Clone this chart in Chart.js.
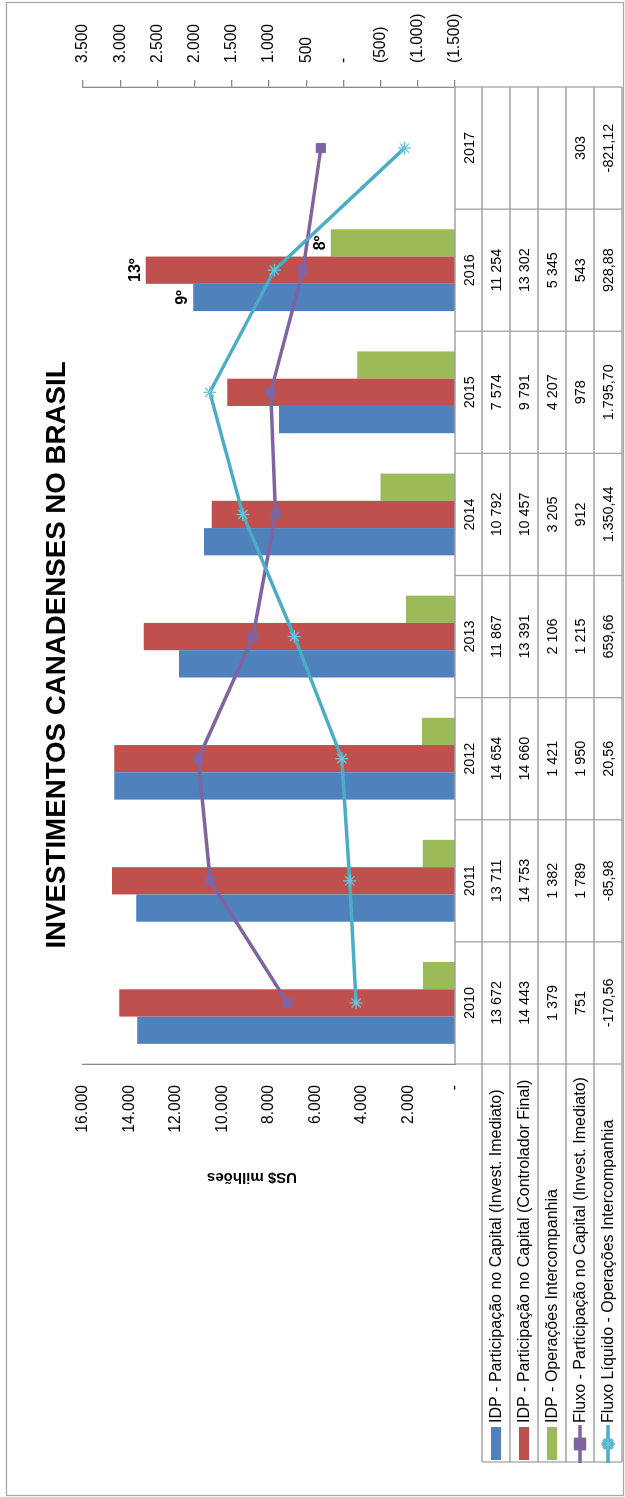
<!DOCTYPE html>
<html><head><meta charset="utf-8">
<script src="https://cdn.jsdelivr.net/npm/chart.js@4.4.1/dist/chart.umd.min.js"></script>
<style>
html,body{margin:0;padding:0;background:#fff;}
body{width:625px;height:1497px;overflow:hidden;position:relative;}
#wrap{position:absolute;left:0;top:1497px;width:1497px;height:625px;transform-origin:0 0;transform:rotate(-90deg);}
canvas{display:block;}
</style></head><body>
<div id="wrap"><canvas id="c" width="1497" height="625"></canvas></div>
<script>
// ---- data ----
const years = ['2010','2011','2012','2013','2014','2015','2016','2017'];
const idpImediato = [13672, 13711, 14654, 11867, 10792, 7574, 11254, null];
const idpFinal    = [14443, 14753, 14660, 13391, 10457, 9791, 13302, null];
const idpInter    = [1379, 1382, 1421, 2106, 3205, 4207, 5345, null];
const fluxoPart   = [751, 1789, 1950, 1215, 912, 978, 543, 303];
const fluxoLiq    = [-170.56, -85.98, 20.56, 659.66, 1350.44, 1795.70, 928.88, -821.12];
const rankYear = '2016';
const rankLabels = ['9º', '13º', '8º'];
const seriesNames = [
  'IDP - Participação no Capital (Invest. Imediato)',
  'IDP - Participação no Capital (Controlador Final)',
  'IDP - Operações Intercompanhia',
  'Fluxo - Participação no Capital (Invest. Imediato)',
  'Fluxo Líquido - Operações Intercompanhia'
];
const primaryAxis = [0, 16000, 2000];     // min, max, step
const secondaryAxis = [-1500, 3500, 500]; // min, max, step
const titleText = 'INVESTIMENTOS CANADENSES NO BRASIL';
const axisTitle = 'US$ milhões';

// ---- fonts ----
function fontAvailable(name){
  const c = document.createElement('canvas').getContext('2d');
  const s = 'mmmmmmmmmmlli 0123456789';
  c.font = '40px monospace'; const w1 = c.measureText(s).width;
  c.font = '40px "' + name + '", monospace'; const w2 = c.measureText(s).width;
  return w1 !== w2;
}
const HAS_NARROW = fontAvailable('Liberation Sans Narrow');
const NUM = HAS_NARROW ? '"Liberation Sans Narrow", "Liberation Sans", sans-serif' : '"Liberation Sans", sans-serif';
const K = HAS_NARROW ? 1 : 0.82;
const SANS = '"Liberation Sans", Arial, sans-serif';

// ---- formatting ----
function grp(n, sep){ return String(n).replace(/\B(?=(\d{3})+(?!\d))/g, sep); }
function fmtIdp(v){ if (v == null) return ''; return (v < 0 ? '-' : '') + grp(Math.round(Math.abs(v)), ' '); }
function fmtLiq(v){ if (v == null) return ''; const p = Math.abs(v).toFixed(2).split('.'); return (v < 0 ? '-' : '') + grp(+p[0], '.') + ',' + p[1]; }
function fmtPrimary(v){ return v === 0 ? '-' : grp(Math.abs(v), '.'); }
function fmtSecondary(v){ if (v === 0) return '-'; return v < 0 ? '(' + grp(-v, '.') + ')' : grp(v, '.'); }

const rows = [idpImediato, idpFinal, idpInter, fluxoPart, fluxoLiq];
const rowFmt = [fmtIdp, fmtIdp, fmtIdp, fmtIdp, fmtLiq];

const GRID = '#a3a3a3';

const bgPlugin = {
  id: 'bg',
  beforeDraw(chart){
    const ctx = chart.ctx; ctx.save(); ctx.fillStyle = '#fff';
    ctx.fillRect(0, 0, chart.width, chart.height); ctx.restore();
  }
};

const rankPlugin = {
  id: 'rank',
  afterDatasetsDraw(chart){
    const ctx = chart.ctx; const idx = years.indexOf(rankYear);
    ctx.save();
    ctx.font = 'bold 16px ' + SANS; ctx.fillStyle = '#000';
    ctx.textAlign = 'center'; ctx.textBaseline = 'alphabetic';
    rankLabels.forEach((t, d) => {
      const el = chart.getDatasetMeta(d).data[idx];
      if (el) ctx.fillText(t, el.x, el.y - 6);
    });
    ctx.restore();
  }
};

const tablePlugin = {
  id: 'table',
  afterDraw(chart){
    const {ctx, chartArea: ca, scales: {x}} = chart;
    const n = years.length;
    const step = x.getPixelForValue(1) - x.getPixelForValue(0);
    const left = x.getPixelForValue(0) - step / 2;
    const right = x.getPixelForValue(n - 1) + step / 2;
    const top = ca.bottom, headH = 27, rowH = 28;
    const bottom = top + headH + rows.length * rowH;
    const legLeft = 35;
    ctx.save();
    ctx.strokeStyle = GRID; ctx.lineWidth = 1.3;
    const line = (x1, y1, x2, y2) => { ctx.beginPath(); ctx.moveTo(x1, y1); ctx.lineTo(x2, y2); ctx.stroke(); };
    line(left, top, right, top);
    for (let r = 0; r <= rows.length; r++) {
      const y = top + headH + r * rowH;
      line(legLeft, y, right, y);
    }
    for (let i = 0; i <= n; i++) {
      const xx = left + i * step;
      line(xx, top, xx, bottom);
    }
    line(legLeft, top + headH, legLeft, bottom);

    // header years
    ctx.fillStyle = '#000'; ctx.textAlign = 'center'; ctx.textBaseline = 'middle';
    ctx.font = (17.5 * K) + 'px ' + NUM;
    years.forEach((yv, i) => ctx.fillText(yv, x.getPixelForValue(i), top + headH / 2 + 1.5));
    rows.forEach((arr, r) => {
      const cy = top + headH + r * rowH + rowH / 2 + 1.5;
      arr.forEach((v, i) => { const s = rowFmt[r](v); if (s) ctx.fillText(s, x.getPixelForValue(i), cy); });
    });

    // legend keys + labels
    const ds = chart.data.datasets;
    ctx.textAlign = 'left'; ctx.font = '16px ' + SANS;
    ds.forEach((d, r) => {
      const cy = top + headH + r * rowH + rowH / 2;
      if (d.type === 'bar') {
        ctx.fillStyle = d.backgroundColor; ctx.fillRect(37, cy - 5, 33, 10);
      } else {
        ctx.strokeStyle = d.borderColor; ctx.lineWidth = d.borderWidth;
        line(34, cy, 72, cy);
        Chart.helpers.drawPoint(ctx, {pointStyle: d.pointStyle, radius: d.pointRadius, borderWidth: d.pointBorderWidth, rotation: 0}, 53, cy);
        ctx.fillStyle = d.pointBackgroundColor; ctx.strokeStyle = d.pointBorderColor; ctx.lineWidth = d.pointBorderWidth;
        ctx.beginPath();
        Chart.helpers.drawPoint(ctx, {pointStyle: d.pointStyle, radius: d.pointRadius, borderWidth: d.pointBorderWidth, rotation: 0}, 53, cy);
      }
      ctx.fillStyle = '#000';
      ctx.fillText(d.label, 74, cy + 1);
    });

    // chart title
    ctx.textAlign = 'center'; ctx.textBaseline = 'alphabetic';
    ctx.font = 'bold ' + (HAS_NARROW ? 33.7 : 27.7) + 'px ' + NUM;
    ctx.fillText(titleText, 842, 65);

    // axis title
    ctx.save();
    ctx.translate(320, 252); ctx.rotate(-Math.PI / 2);
    ctx.textAlign = 'center'; ctx.textBaseline = 'middle';
    ctx.font = 'bold 15px ' + SANS;
    ctx.fillText(axisTitle, 0, 0);
    ctx.restore();

    // outer border
    ctx.strokeStyle = '#a8a8a8'; ctx.lineWidth = 1.3;
    ctx.strokeRect(1.5, 6.5, 1493, 617);
    ctx.restore();
  }
};

new Chart(document.getElementById('c'), {
  data: {
    labels: years,
    datasets: [
      {type: 'bar', label: seriesNames[0], data: idpImediato, backgroundColor: '#4F81BD', yAxisID: 'y', order: 3, categoryPercentage: 0.67, barPercentage: 1},
      {type: 'bar', label: seriesNames[1], data: idpFinal, backgroundColor: '#C0504D', yAxisID: 'y', order: 3, categoryPercentage: 0.67, barPercentage: 1},
      {type: 'bar', label: seriesNames[2], data: idpInter, backgroundColor: '#9BBB59', yAxisID: 'y', order: 3, categoryPercentage: 0.67, barPercentage: 1},
      {type: 'line', label: seriesNames[3], data: fluxoPart, yAxisID: 'y1', order: 2, tension: 0,
        borderColor: '#8064A2', backgroundColor: '#8064A2', borderWidth: 3.5,
        pointStyle: 'rect', pointRadius: 6.5, pointBackgroundColor: '#8064A2', pointBorderColor: '#8064A2', pointBorderWidth: 1},
      {type: 'line', label: seriesNames[4], data: fluxoLiq, yAxisID: 'y1', order: 1, tension: 0,
        borderColor: '#4BACC6', backgroundColor: '#4BACC6', borderWidth: 3.5,
        pointStyle: 'star', pointRadius: 6.5, pointBackgroundColor: 'rgba(0,0,0,0)', pointBorderColor: '#6cc3d9', pointBorderWidth: 1.3}
    ]
  },
  options: {
    responsive: false, animation: false, devicePixelRatio: 1, events: [],
    layout: {padding: {top: 83, left: 0, right: 0, bottom: 0}},
    plugins: {legend: {display: false}, tooltip: {enabled: false}, title: {display: false}},
    scales: {
      x: {type: 'category', offset: true, grid: {display: false}, border: {display: false}, ticks: {display: false},
          afterFit: s => { s.height = 170; }},
      y: {position: 'left', min: primaryAxis[0], max: primaryAxis[1],
          ticks: {stepSize: primaryAxis[2], autoSkip: false, padding: 21, color: '#000', font: {family: NUM, size: 19 * K}, callback: v => fmtPrimary(v)},
          grid: {display: false, drawTicks: false},
          border: {display: true, color: '#8a8a8a', width: 1.3},
          afterFit: s => { s.width = 433; }},
      y1: {position: 'right', min: secondaryAxis[0], max: secondaryAxis[1],
          ticks: {stepSize: secondaryAxis[2], autoSkip: false, padding: 17, color: '#000', font: {family: NUM, size: 19 * K}, callback: v => fmtSecondary(v)},
          grid: {display: true, drawOnChartArea: false, drawTicks: true, tickLength: 7, color: '#8a8a8a', lineWidth: 1.3},
          border: {display: true, color: '#8a8a8a', width: 1.3},
          afterFit: s => { s.width = 87; }}
    }
  },
  plugins: [bgPlugin, rankPlugin, tablePlugin]
});
</script>
</body></html>
